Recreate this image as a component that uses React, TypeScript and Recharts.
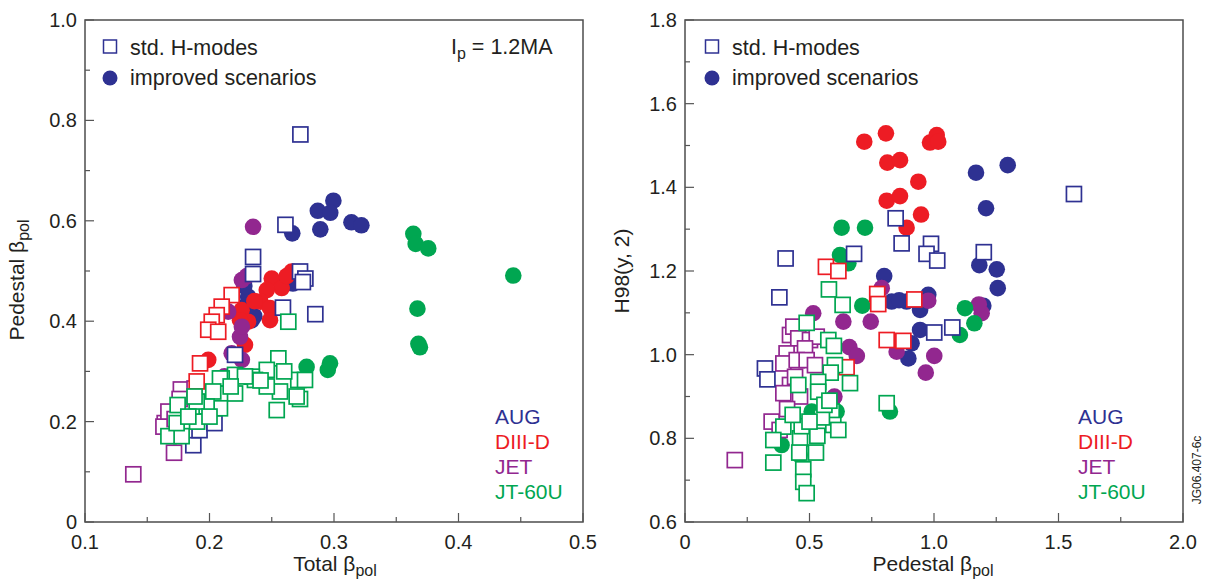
import React from 'react';
import { ScatterChart, Scatter, XAxis, YAxis, ReferenceArea } from 'recharts';

const NAVY = '#2e3192';
const RED = '#ed1c24';
const PURPLE = '#92278f';
const GREEN = '#00a651';
const INK = '#231f20';
const FONT = '"Liberation Sans", Arial, sans-serif';

// ---- left panel: total beta_pol vs pedestal beta_pol ----
const augStdL = [
  { x: 0.273, y: 0.772 }, { x: 0.261, y: 0.592 }, { x: 0.235, y: 0.528 }, { x: 0.235, y: 0.494 },
  { x: 0.2727, y: 0.499 }, { x: 0.277, y: 0.485 }, { x: 0.275, y: 0.478 }, { x: 0.259, y: 0.427 },
  { x: 0.285, y: 0.414 }, { x: 0.2205, y: 0.333 }, { x: 0.187, y: 0.153 }, { x: 0.192, y: 0.183 },
  { x: 0.204, y: 0.197 },
];
const augImpL = [
  { x: 0.2665, y: 0.575 }, { x: 0.287, y: 0.62 }, { x: 0.289, y: 0.583 }, { x: 0.2995, y: 0.64 },
  { x: 0.297, y: 0.616 }, { x: 0.314, y: 0.597 }, { x: 0.322, y: 0.591 }, { x: 0.267, y: 0.475 },
  { x: 0.262, y: 0.48 }, { x: 0.231, y: 0.449 }, { x: 0.234, y: 0.402 }, { x: 0.229, y: 0.43 },
  { x: 0.236, y: 0.41 }, { x: 0.228, y: 0.47 },
];
const d3dStdL = [
  { x: 0.2178, y: 0.452 }, { x: 0.2098, y: 0.429 }, { x: 0.2058, y: 0.412 }, { x: 0.2018, y: 0.399 },
  { x: 0.199, y: 0.383 }, { x: 0.207, y: 0.379 }, { x: 0.1924, y: 0.316 }, { x: 0.1897, y: 0.28 },
];
const d3dImpL = [
  { x: 0.266, y: 0.499 }, { x: 0.25, y: 0.485 }, { x: 0.258, y: 0.466 }, { x: 0.246, y: 0.462 },
  { x: 0.241, y: 0.439 }, { x: 0.2486, y: 0.426 }, { x: 0.2258, y: 0.422 }, { x: 0.231, y: 0.399 },
  { x: 0.2245, y: 0.402 }, { x: 0.2486, y: 0.402 }, { x: 0.2285, y: 0.353 }, { x: 0.199, y: 0.323 },
  { x: 0.236, y: 0.44 }, { x: 0.262, y: 0.49 },
];
const jetStdL = [
  { x: 0.1388, y: 0.095 }, { x: 0.1715, y: 0.138 }, { x: 0.177, y: 0.264 }, { x: 0.176, y: 0.245 },
  { x: 0.164, y: 0.197 }, { x: 0.163, y: 0.19 }, { x: 0.167, y: 0.22 }, { x: 0.188, y: 0.266 },
  { x: 0.172, y: 0.205 },
];
const jetImpL = [
  { x: 0.235, y: 0.588 }, { x: 0.226, y: 0.482 }, { x: 0.2245, y: 0.369 }, { x: 0.226, y: 0.389 },
  { x: 0.215, y: 0.419 }, { x: 0.2178, y: 0.336 }, { x: 0.226, y: 0.323 }, { x: 0.212, y: 0.29 },
  { x: 0.23, y: 0.49 },
];
const jtStdL = [
  { x: 0.2633, y: 0.399 }, { x: 0.2553, y: 0.326 }, { x: 0.246, y: 0.303 }, { x: 0.234, y: 0.2895 },
  { x: 0.2205, y: 0.293 }, { x: 0.2098, y: 0.286 }, { x: 0.2713, y: 0.283 }, { x: 0.2767, y: 0.283 },
  { x: 0.2727, y: 0.245 }, { x: 0.254, y: 0.223 }, { x: 0.27, y: 0.25 }, { x: 0.2566, y: 0.26 },
  { x: 0.246, y: 0.27 }, { x: 0.2365, y: 0.283 }, { x: 0.2205, y: 0.256 }, { x: 0.2084, y: 0.286 },
  { x: 0.203, y: 0.26 }, { x: 0.2084, y: 0.2265 }, { x: 0.1977, y: 0.23 }, { x: 0.1897, y: 0.24 },
  { x: 0.188, y: 0.25 }, { x: 0.19, y: 0.2 }, { x: 0.1744, y: 0.233 }, { x: 0.167, y: 0.171 },
  { x: 0.1776, y: 0.171 }, { x: 0.1736, y: 0.197 }, { x: 0.2285, y: 0.29 }, { x: 0.241, y: 0.282 },
  { x: 0.26, y: 0.3 }, { x: 0.217, y: 0.27 }, { x: 0.2, y: 0.21 }, { x: 0.183, y: 0.21 },
];
const jtImpL = [
  { x: 0.3637, y: 0.574 }, { x: 0.3656, y: 0.554 }, { x: 0.3757, y: 0.545 }, { x: 0.444, y: 0.491 },
  { x: 0.367, y: 0.425 }, { x: 0.3678, y: 0.355 }, { x: 0.369, y: 0.348 }, { x: 0.278, y: 0.309 },
  { x: 0.2968, y: 0.316 }, { x: 0.295, y: 0.303 },
];

// ---- right panel: pedestal beta_pol vs H98(y,2) ----
const augStdR = [
  { x: 0.846, y: 1.326 }, { x: 0.87, y: 1.266 }, { x: 0.988, y: 1.265 }, { x: 0.97, y: 1.241 },
  { x: 1.013, y: 1.225 }, { x: 1.2, y: 1.245 }, { x: 0.679, y: 1.241 }, { x: 0.404, y: 1.23 },
  { x: 0.379, y: 1.137 }, { x: 1.001, y: 1.053 }, { x: 1.0735, y: 1.065 }, { x: 0.321, y: 0.967 },
  { x: 0.331, y: 0.941 }, { x: 1.562, y: 1.384 },
];
const augImpR = [
  { x: 1.1687, y: 1.435 }, { x: 1.296, y: 1.453 }, { x: 1.209, y: 1.35 }, { x: 1.182, y: 1.214 },
  { x: 1.252, y: 1.204 }, { x: 1.256, y: 1.159 }, { x: 0.8, y: 1.188 }, { x: 0.83, y: 1.127 },
  { x: 0.89, y: 1.127 }, { x: 0.944, y: 1.107 }, { x: 0.977, y: 1.143 }, { x: 1.198, y: 1.117 },
  { x: 0.944, y: 1.059 }, { x: 0.91, y: 1.027 }, { x: 0.897, y: 0.991 }, { x: 0.86, y: 1.13 },
];
const d3dStdR = [
  { x: 0.566, y: 1.21 }, { x: 0.616, y: 1.2 }, { x: 0.772, y: 1.145 }, { x: 0.776, y: 1.121 },
  { x: 0.921, y: 1.132 }, { x: 0.81, y: 1.035 }, { x: 0.877, y: 1.033 }, { x: 0.649, y: 0.97 },
];
const d3dImpR = [
  { x: 0.72, y: 1.509 }, { x: 0.807, y: 1.529 }, { x: 0.984, y: 1.507 }, { x: 1.011, y: 1.525 },
  { x: 1.017, y: 1.509 }, { x: 0.8125, y: 1.459 }, { x: 0.8635, y: 1.465 }, { x: 0.937, y: 1.4135 },
  { x: 0.81, y: 1.368 }, { x: 0.8635, y: 1.379 }, { x: 0.948, y: 1.335 }, { x: 0.89, y: 1.3035 },
];
const jetStdR = [
  { x: 0.4217, y: 1.047 }, { x: 0.435, y: 1.067 }, { x: 0.455, y: 1.039 }, { x: 0.502, y: 1.035 },
  { x: 0.529, y: 1.043 }, { x: 0.482, y: 1.015 }, { x: 0.408, y: 1.003 }, { x: 0.395, y: 0.979 },
  { x: 0.4486, y: 0.987 }, { x: 0.4886, y: 0.987 }, { x: 0.522, y: 0.975 }, { x: 0.4217, y: 0.9275 },
  { x: 0.395, y: 0.908 }, { x: 0.462, y: 0.9 }, { x: 0.442, y: 0.947 }, { x: 0.348, y: 0.84 },
  { x: 0.2, y: 0.748 }, { x: 0.38, y: 0.82 }, { x: 0.41, y: 0.87 },
];
const jetImpR = [
  { x: 0.79, y: 1.159 }, { x: 0.977, y: 1.129 }, { x: 0.515, y: 1.099 }, { x: 0.636, y: 1.079 },
  { x: 0.746, y: 1.079 }, { x: 1.1915, y: 1.099 }, { x: 0.85, y: 1.007 }, { x: 1.001, y: 0.997 },
  { x: 0.967, y: 0.957 }, { x: 0.66, y: 1.018 }, { x: 0.69, y: 0.997 }, { x: 0.6, y: 0.9 },
  { x: 0.596, y: 0.896 }, { x: 1.18, y: 1.12 },
];
const jtStdR = [
  { x: 0.578, y: 1.156 }, { x: 0.633, y: 1.119 }, { x: 0.4886, y: 1.076 }, { x: 0.5756, y: 1.035 },
  { x: 0.598, y: 1.021 }, { x: 0.602, y: 0.975 }, { x: 0.585, y: 0.957 }, { x: 0.6627, y: 0.932 },
  { x: 0.455, y: 0.9275 }, { x: 0.535, y: 0.935 }, { x: 0.535, y: 0.9115 }, { x: 0.81, y: 0.884 },
  { x: 0.589, y: 0.864 }, { x: 0.5956, y: 0.832 }, { x: 0.6157, y: 0.82 }, { x: 0.5315, y: 0.806 },
  { x: 0.462, y: 0.8 }, { x: 0.395, y: 0.828 }, { x: 0.4685, y: 0.829 }, { x: 0.3547, y: 0.796 },
  { x: 0.4324, y: 0.856 }, { x: 0.3547, y: 0.742 }, { x: 0.459, y: 0.766 }, { x: 0.526, y: 0.766 },
  { x: 0.475, y: 0.726 }, { x: 0.475, y: 0.696 }, { x: 0.4886, y: 0.669 }, { x: 0.55, y: 0.85 },
  { x: 0.5, y: 0.84 }, { x: 0.56, y: 0.88 }, { x: 0.58, y: 0.89 },
];
const jtImpR = [
  { x: 0.629, y: 1.3035 }, { x: 0.723, y: 1.3035 }, { x: 0.6225, y: 1.238 }, { x: 0.656, y: 1.2185 },
  { x: 0.712, y: 1.117 }, { x: 1.1245, y: 1.111 }, { x: 1.162, y: 1.075 }, { x: 1.104, y: 1.047 },
  { x: 0.823, y: 0.864 }, { x: 0.5087, y: 0.864 }, { x: 0.609, y: 0.864 }, { x: 0.388, y: 0.784 },
  { x: 0.46, y: 0.76 },
];

// ticks (majors get a label, minors only a short inner tick)
const leftXTicks = [0.1, 0.15, 0.2, 0.25, 0.3, 0.35, 0.4, 0.45, 0.5];
const leftXLabels = ['0.1', '', '0.2', '', '0.3', '', '0.4', '', '0.5'];
const leftYTicks = [0, 0.1, 0.2, 0.3, 0.4, 0.5, 0.6, 0.7, 0.8, 0.9, 1.0];
const leftYLabels = ['0', '', '0.2', '', '0.4', '', '0.6', '', '0.8', '', '1.0'];
const rightXTicks = [0, 0.25, 0.5, 0.75, 1.0, 1.25, 1.5, 1.75, 2.0];
const rightXLabels = ['0', '', '0.5', '', '1.0', '', '1.5', '', '2.0'];
const rightYTicks = [0.6, 0.7, 0.8, 0.9, 1.0, 1.1, 1.2, 1.3, 1.4, 1.5, 1.6, 1.7, 1.8];
const rightYLabels = ['0.6', '', '0.8', '', '1.0', '', '1.2', '', '1.4', '', '1.6', '', '1.8'];

const machines = ['AUG', 'DIII-D', 'JET', 'JT-60U'];
const machineColors = [NAVY, RED, PURPLE, GREEN];

const square = (color: string) => (p: any) => (
  <rect x={p.cx - 7.5} y={p.cy - 7.5} width={15} height={15} fill="#fff" stroke={color} strokeWidth={1.7} />
);
const circle = (color: string) => (p: any) => <circle cx={p.cx} cy={p.cy} r={8.3} fill={color} />;

const makeXTick = (labels: string[], ticks: number[]) => (p: any) => {
  const i = ticks.indexOf(p.payload.value);
  const lab = labels[i];
  return (
    <g>
      <line x1={p.x} y1={p.y} x2={p.x} y2={p.y - (lab ? 9 : 5)} stroke="#555" strokeWidth={1.2} />
      {lab && (
        <text x={p.x} y={p.y + 27} textAnchor="middle" fontSize={20} fontFamily={FONT} fill={INK}>{lab}</text>
      )}
    </g>
  );
};
const makeYTick = (labels: string[], ticks: number[]) => (p: any) => {
  const i = ticks.indexOf(p.payload.value);
  const lab = labels[i];
  return (
    <g>
      <line x1={p.x} y1={p.y} x2={p.x + (lab ? 9 : 5)} y2={p.y} stroke="#555" strokeWidth={1.2} />
      {lab && (
        <text x={p.x - 8} y={p.y + 7} textAnchor="end" fontSize={20} fontFamily={FONT} fill={INK}>{lab}</text>
      )}
    </g>
  );
};

function Panel({ series, xDomain, yDomain, xTicks, xLabels, yTicks, yLabels, width }: any) {
  return (
    <ScatterChart width={width} height={581} margin={{ top: 20, right: width - 583, bottom: 0, left: 0 }}>
      <XAxis type="number" dataKey="x" domain={xDomain} ticks={xTicks} interval={0} allowDataOverflow
        axisLine={false} tickLine={false} tickSize={0} tickMargin={0} height={59}
        tick={makeXTick(xLabels, xTicks)} />
      <YAxis type="number" dataKey="y" domain={yDomain} ticks={yTicks} interval={0} allowDataOverflow
        axisLine={false} tickLine={false} tickSize={0} tickMargin={0} width={85}
        tick={makeYTick(yLabels, yTicks)} />
      <ReferenceArea x1={xDomain[0]} x2={xDomain[1]} y1={yDomain[0]} y2={yDomain[1]}
        fill="none" stroke="#4d4d4d" strokeWidth={1.5} fillOpacity={0} strokeOpacity={1} />
      {series.imp.map((d: any[], i: number) => (
        <Scatter key={'imp' + i} data={d} shape={circle(machineColors[i])} isAnimationActive={false} />
      ))}
      {[2, 0, 1, 3].map((i) => (
        <Scatter key={'std' + i} data={series.std[i]} shape={square(machineColors[i])} isAnimationActive={false} />
      ))}
    </ScatterChart>
  );
}

function Sub({ base, sub, size }: { base: string; sub: string; size: number }) {
  return (
    <>
      {base}
      <tspan fontSize={size} dy={5}>{sub}</tspan>
    </>
  );
}

function Overlay() {
  const txt = { fontFamily: FONT, fontSize: 21.5, fill: INK };
  const title = { fontFamily: FONT, fontSize: 21, fill: INK };
  const legend = (x: number) => (
    <g>
      <rect x={x - 6.5} y={40} width={13} height={13} fill="#fff" stroke={NAVY} strokeWidth={1.5} />
      <text x={x + 20} y={55} {...txt}>std. H-modes</text>
      <circle cx={x} cy={78} r={7.5} fill={NAVY} />
      <text x={x + 20} y={85} {...txt}>improved scenarios</text>
    </g>
  );
  const names = (x: number) => (
    <g>
      {machines.map((m, i) => (
        <text key={m} x={x} y={424 + i * 25} fontFamily={FONT} fontSize={21} fill={machineColors[i]}>{m}</text>
      ))}
    </g>
  );
  return (
    <svg width={1205} height={581} style={{ position: 'absolute', left: 0, top: 0, pointerEvents: 'none' }}>
      {legend(110)}
      {legend(712)}
      <text x={451} y={54} {...txt}>
        <Sub base="I" sub="p" size={16} />
        <tspan dy={-5}> = 1.2MA</tspan>
      </text>
      {names(495)}
      {names(1078)}
      <text x={335} y={571} textAnchor="middle" {...title}><Sub base="Total β" sub="pol" size={16} /></text>
      <text x={933} y={571} textAnchor="middle" {...title}><Sub base="Pedestal β" sub="pol" size={16} /></text>
      <text transform="translate(24,280) rotate(-90)" textAnchor="middle" {...title}>
        <Sub base="Pedestal β" sub="pol" size={16} />
      </text>
      <text transform="translate(629,271) rotate(-90)" textAnchor="middle" {...title}>H98(y, 2)</text>
      <text transform="translate(1201,470) rotate(-90)" textAnchor="middle" fontFamily={FONT} fontSize={12} fill={INK}>
        JG06.407-6c
      </text>
    </svg>
  );
}

export default function App() {
  return (
    <div style={{ position: 'absolute', left: 0, top: 0, width: 1205, height: 581, background: '#fff' }}>
      <div style={{ position: 'absolute', left: 0, top: 0 }}>
        <Panel width={600} xDomain={[0.1, 0.5]} yDomain={[0, 1]}
          xTicks={leftXTicks} xLabels={leftXLabels} yTicks={leftYTicks} yLabels={leftYLabels}
          series={{ imp: [augImpL, d3dImpL, jetImpL, jtImpL], std: [augStdL, d3dStdL, jetStdL, jtStdL] }} />
      </div>
      <div style={{ position: 'absolute', left: 600, top: 0 }}>
        <Panel width={605} xDomain={[0, 2]} yDomain={[0.6, 1.8]}
          xTicks={rightXTicks} xLabels={rightXLabels} yTicks={rightYTicks} yLabels={rightYLabels}
          series={{ imp: [augImpR, d3dImpR, jetImpR, jtImpR], std: [augStdR, d3dStdR, jetStdR, jtStdR] }} />
      </div>
      <Overlay />
    </div>
  );
}
